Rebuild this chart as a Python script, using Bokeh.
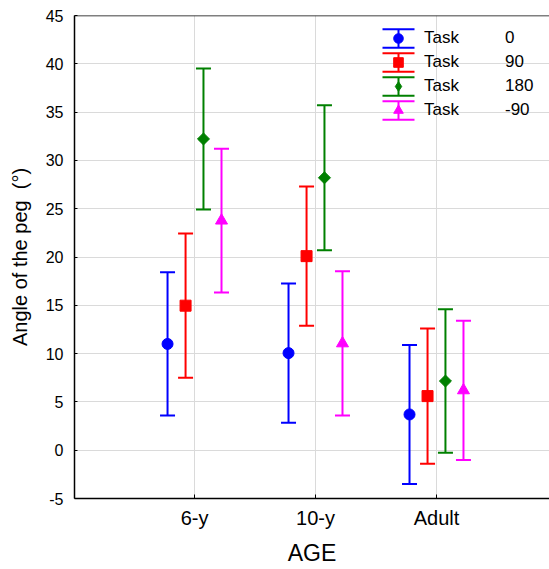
import math
from bokeh.plotting import figure
from bokeh.models import (ColumnDataSource, Range1d, FixedTicker, Span,
                          Whisker, TeeHead, Legend, LegendItem)
from bokeh.embed import file_html
from bokeh.resources import INLINE

# ---- data ----
ages = ["6-y", "10-y", "Adult"]
age_pos = [1, 2, 3]
tasks = ["0", "90", "180", "-90"]
mean_0 = [11.0, 10.05, 3.7]
err_0 = [7.42, 7.21, 7.2]
mean_90 = [14.96, 20.09, 5.6]
err_90 = [7.47, 7.2, 7.0]
mean_180 = [32.22, 28.2, 7.16]
err_180 = [7.3, 7.5, 7.43]
mean_m90 = [23.77, 11.06, 6.2]
err_m90 = [7.44, 7.47, 7.21]
y_ticks = [-5, 0, 5, 10, 15, 20, 25, 30, 35, 40, 45]

means = [mean_0, mean_90, mean_180, mean_m90]
errs = [err_0, err_90, err_180, err_m90]

# ---- styles ----
offsets = [-0.223, -0.074, 0.074, 0.223]
colors = ["#0000ff", "#ff0000", "#008000", "#ff00ff"]
markers = [("circle", 11, 0.0), ("square", 11, 0.0),
           ("square", 8.5, math.pi / 4), ("triangle", 12, 0.0)]
legend_markers = ["circle", "square", "diamond", "triangle"]
FONT = "Liberation Sans"

W, H = 549, 569
LEFT, TOP, BOTTOM = 74, 15, 71

p = figure(width=W, height=H,
           x_range=Range1d(0.008, 3.934), y_range=Range1d(-5, 45),
           output_backend="svg", toolbar_location=None,
           min_border_left=LEFT, min_border_right=0,
           min_border_top=TOP, min_border_bottom=BOTTOM)
p.outline_line_color = None
p.background_fill_color = "white"
p.border_fill_color = "white"

# grids
p.xgrid.ticker = FixedTicker(ticks=age_pos)
p.ygrid.ticker = FixedTicker(ticks=y_ticks)
p.grid.grid_line_color = "#dadada"
p.grid.grid_line_width = 1

# x axis
xa = p.xaxis[0]
xa.ticker = FixedTicker(ticks=age_pos)
xa.major_label_overrides = {pos: lab for pos, lab in zip(age_pos, ages)}
xa.major_tick_in = 4
xa.major_tick_out = 0
xa.minor_tick_in = 0
xa.minor_tick_out = 0
xa.major_label_standoff = 8
xa.major_label_text_font = FONT
xa.major_label_text_font_size = "20px"
xa.major_label_text_color = "black"
xa.axis_label = "AGE"
xa.axis_label_text_font = FONT
xa.axis_label_text_font_size = "23px"
xa.axis_label_text_font_style = "normal"
xa.axis_label_text_color = "black"
xa.axis_label_standoff = 8
xa.axis_line_color = "black"
xa.axis_line_width = 1.5
xa.major_tick_line_color = "black"

# y axis
ya = p.yaxis[0]
ya.ticker = FixedTicker(ticks=y_ticks)
ya.major_label_overrides = {t: str(t) for t in y_ticks}
ya.major_tick_in = 3
ya.major_tick_out = 0
ya.minor_tick_in = 0
ya.minor_tick_out = 0
ya.major_label_standoff = 11
ya.major_label_text_font = FONT
ya.major_label_text_font_size = "16px"
ya.major_label_text_color = "black"
ya.axis_label = "Angle of the peg\u00a0 (°)"
ya.axis_label_text_font = FONT
ya.axis_label_text_font_size = "20px"
ya.axis_label_text_font_style = "normal"
ya.axis_label_text_color = "black"
ya.axis_label_standoff = 12
ya.axis_line_color = "black"
ya.axis_line_width = 1.5
ya.major_tick_line_color = "black"

# top border line of the frame
p.add_layout(Span(location=45, dimension="width", line_color="black", line_width=1.5))

# ---- legend layout (screen px relative to frame bottom-left) ----
LEG_X, LEG_Y = 308, 376
GLYPH_W, GLYPH_H = 32, 24
LEG_H = 4 * GLYPH_H
STEM_HALF = 9.3
NUM_X = 431

task_items, num_items = [], []
for k in range(4):
    xs = [a + offsets[k] for a in age_pos]
    lo = [m - e for m, e in zip(means[k], errs[k])]
    hi = [m + e for m, e in zip(means[k], errs[k])]
    src = ColumnDataSource(dict(x=xs, y=means[k], lo=lo, hi=hi))
    c = colors[k]
    p.add_layout(Whisker(base="x", lower="lo", upper="hi", source=src,
                         line_color=c, line_width=2,
                         upper_head=TeeHead(size=15, line_color=c, line_width=2),
                         lower_head=TeeHead(size=15, line_color=c, line_width=2)))
    mk, sz, ang = markers[k]
    r = p.scatter("x", "y", source=src, marker=mk, size=sz, angle=ang,
                  fill_color=c, line_color=c)
    if legend_markers[k] != mk or ang != 0:
        # zero-size twin: invisible in the plot, drawn only as the legend symbol
        leg_r = p.scatter("x", "y", source=src, marker=legend_markers[k], size=0,
                          fill_color=c, line_color=c)
    else:
        leg_r = r
    # legend error-bar glyph, positioned from the legend layout constants
    yc = LEG_Y + LEG_H - GLYPH_H / 2 - k * GLYPH_H
    lsrc = ColumnDataSource(dict(b=[LEG_X + GLYPH_W / 2], lo=[yc - STEM_HALF], hi=[yc + STEM_HALF]))
    p.add_layout(Whisker(base="b", lower="lo", upper="hi", source=lsrc,
                         base_units="screen", lower_units="screen", upper_units="screen",
                         line_color=c, line_width=2,
                         upper_head=TeeHead(size=GLYPH_W, line_color=c, line_width=2),
                         lower_head=TeeHead(size=GLYPH_W, line_color=c, line_width=2)))
    task_items.append(LegendItem(label="Task", renderers=[leg_r]))
    num_items.append(LegendItem(label=tasks[k], renderers=[r]))

common = dict(glyph_height=GLYPH_H, spacing=0, padding=0, margin=0,
              border_line_color=None, background_fill_alpha=0,
              label_text_font=FONT, label_text_font_size="17px",
              label_text_color="black", label_height=20)
legend = Legend(items=task_items, location=(LEG_X, LEG_Y), glyph_width=GLYPH_W,
                label_standoff=10, **common)
p.add_layout(legend)
# second column of the legend: the task angle values (no symbols)
legend_vals = Legend(items=num_items, location=(NUM_X, LEG_Y), glyph_width=0,
                     label_standoff=0, **common)
p.add_layout(legend_vals)

open("out.html", "w").write(file_html(p, INLINE))
